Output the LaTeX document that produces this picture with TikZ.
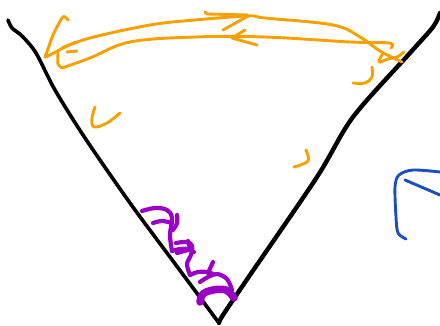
\documentclass[tikz,border=0pt]{standalone}
\definecolor{ink}{HTML}{000000}
\definecolor{orng}{HTML}{F7A000}
\definecolor{purp}{HTML}{9A00C6}
\definecolor{blu}{HTML}{1C4FBE}
\tikzset{
  pen/.style={line cap=round,line join=round},
  blackpen/.style={pen,draw=ink,line width=3.8pt},
  orangepen/.style={pen,draw=orng,line width=2.9pt},
  purplepen/.style={pen,draw=purp,line width=4.2pt},
  purplethick/.style={pen,draw=purp,line width=7.5pt},
  bluepen/.style={pen,draw=blu,line width=2.9pt}
}
\begin{document}
\begin{tikzpicture}[x=1pt,y=-1pt]
\useasboundingbox (0,0) rectangle (440,326);
% black V
\draw[blackpen,line width=3.6pt] plot[smooth,tension=0.5] coordinates {(8,20) (12,28) (22,36) (36,53) (55,90) (85,138) (130,203) (170,257) (219,323)};
\draw[blackpen,line width=4.4pt] plot[smooth,tension=0.5] coordinates {(219,323) (223,315) (250,275) (317,177) (353,117) (410,53) (433,27) (440,13)};
% orange upper arc
\draw[orangepen] plot[smooth,tension=0.6] coordinates {(63,48) (90,38) (150,25) (195,20) (248,16) (265,18) (333,25) (360,37) (380,51) (402,62)};
\draw[orangepen] (205,12) -- (207,14) -- (248,15);
\draw[orangepen] (223,30) -- (248,16);
% orange lower arc
\draw[orangepen] plot[smooth,tension=0.6] coordinates {(62,68) (90,58) (130,42) (195,37) (265,37) (350,42) (389,43) (391,48)};
\draw[orangepen] (245,30) -- (232,38) -- (257,45);
% left end scribbles
\draw[orangepen] plot[smooth,tension=0.5] coordinates {(68,20) (65,17) (62,18) (53,35) (47,52) (45,57) (50,55) (63,48)};
\draw[orangepen] (76,42) -- (62,48);
\draw[orangepen] (67,52) -- (77,51);
\draw[orangepen] plot[smooth,tension=0.5] coordinates {(58,53) (58,64) (62,68)};
% right end scribbles
\draw[orangepen] plot[smooth,tension=0.6] coordinates {(383,53) (379,62) (388,59) (397,57) (404,52)};
\draw[orangepen] plot[smooth,tension=0.6] coordinates {(372,67) (372,77) (365,83) (353,83)};
% small orange marks
\draw[orangepen] plot[smooth,tension=0.6] coordinates {(95,107) (92,118) (94,127) (107,123) (120,113)};
\draw[orangepen] plot[smooth,tension=0.6] coordinates {(306,150) (308,161) (294,167)};
% purple loops
\draw[purplepen] plot[smooth,tension=0.6] coordinates {(142,211) (155,208) (167,210) (172,218) (170,235) (172,251)};
\draw[purplepen] plot[smooth,tension=0.6] coordinates {(153,223) (162,221) (172,223)};
\draw[purplepen] plot[smooth,tension=0.6] coordinates {(177,215) (177,223) (173,230)};
\draw[purplepen] plot[smooth,tension=0.6] coordinates {(172,251) (180,249) (188,249) (194,252)};
\draw[purplepen] (188,241) -- (190,248);
\draw[purplepen] plot[smooth,tension=0.6] coordinates {(176,243) (187,242) (192,246) (191,255) (187,264) (190,275)};
\draw[purplepen] plot[smooth,tension=0.6] coordinates {(177,253) (188,250)};
\draw[purplepen] plot[smooth,tension=0.6] coordinates {(190,275) (198,272) (207,272) (213,274)};
\draw[purplepen] plot[smooth,tension=0.6] coordinates {(213,262) (208,273)};
\draw[purplepen] plot[smooth,tension=0.6] coordinates {(200,282) (208,277) (217,274) (227,279) (232,290)};
\draw[purplethick] plot[smooth,tension=0.6] coordinates {(200,302) (203,294) (213,290) (226,290) (234,298)};
% blue stroke
\draw[bluepen] plot[smooth,tension=0.5] coordinates {(440,172) (413,170) (399,175) (395,187) (396,217) (398,233) (406,239)};
\draw[bluepen] (405,180) -- (440,195);
\end{tikzpicture}
\end{document}
